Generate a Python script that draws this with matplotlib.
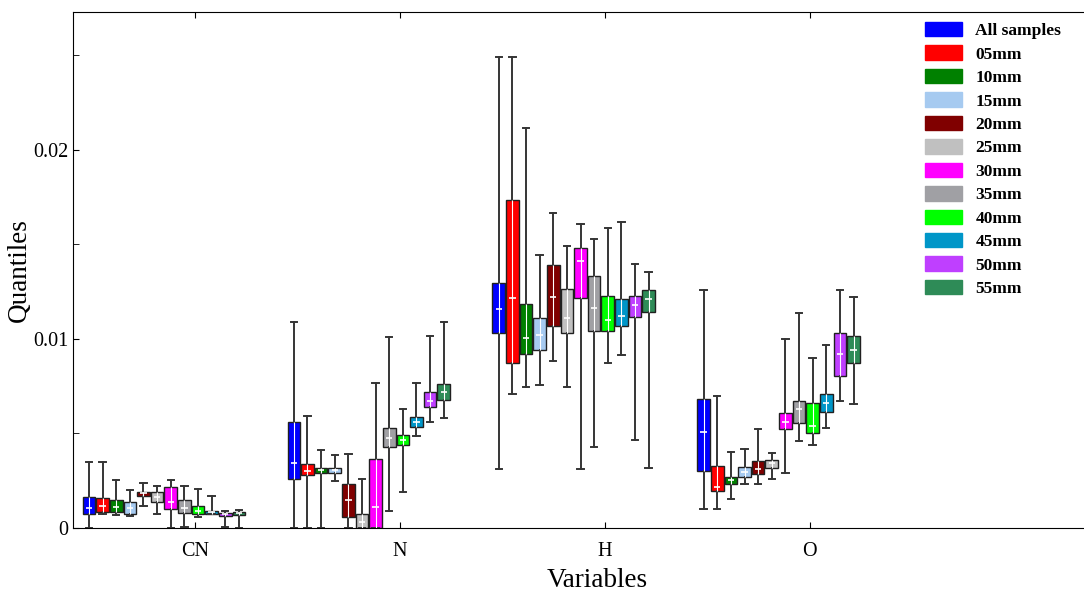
import numpy as np
import matplotlib.pyplot as plt
from matplotlib.patches import Patch

plt.rcParams['font.family'] = ['Liberation Serif', 'DejaVu Serif']

variables = ["CN", "N", "H", "O"]
series = ["All samples", "05mm", "10mm", "15mm", "20mm", "25mm",
          "30mm", "35mm", "40mm", "45mm", "50mm", "55mm"]
colors = ["#0000ff", "#ff0000", "#008000", "#a6caf0", "#800000", "#c0c0c0",
          "#ff00ff", "#a0a0a4", "#00ff00", "#0096c8", "#bf3fff", "#2e8b57"]

# quantiles, one list of 12 per variable
whislo = {
    "CN": [0.0, 0.00074, 0.0007, 0.00063, 0.00116, 0.00074, 0.0, 0.00004, 0.0006, 0.00074, 0.00004, 0.0],
    "N":  [0.0, 0.0, 0.0, 0.00247, 0.0, 0.0, 0.0, 0.0009, 0.0019, 0.00489, 0.00563, 0.0058],
    "H":  [0.0031, 0.00707, 0.00744, 0.00757, 0.00884, 0.00744, 0.0031, 0.00427, 0.00875, 0.00914, 0.00467, 0.00316],
    "O":  [0.00102, 0.00102, 0.00155, 0.00233, 0.00233, 0.00261, 0.00293, 0.0046, 0.00439, 0.00529, 0.0067, 0.00654],
}
q1 = {
    "CN": [0.00074, 0.00086, 0.00086, 0.00074, 0.00169, 0.00136, 0.001, 0.00078, 0.00074, 0.00074, 0.00063, 0.00067],
    "N":  [0.00257, 0.0028, 0.00291, 0.00289, 0.0006, 0.0, 0.0, 0.00429, 0.00439, 0.00536, 0.00642, 0.00679],
    "H":  [0.01034, 0.00875, 0.00921, 0.00942, 0.01071, 0.01034, 0.01215, 0.01042, 0.01041, 0.01071, 0.01118, 0.01145],
    "O":  [0.00303, 0.00198, 0.00233, 0.00272, 0.00286, 0.00319, 0.00522, 0.00557, 0.00504, 0.00612, 0.00804, 0.00871],
}
med = {
    "CN": [0.00104, 0.00116, 0.00113, 0.00106, 0.00183, 0.00162, 0.00139, 0.00104, 0.00092, 0.00085, 0.00074, 0.00078],
    "N":  [0.00346, 0.00302, 0.00305, 0.00305, 0.00148, 0.0003, 0.00109, 0.00474, 0.00464, 0.00563, 0.00674, 0.00721],
    "H":  [0.01159, 0.01219, 0.01007, 0.01023, 0.01224, 0.01113, 0.01414, 0.01164, 0.011, 0.01123, 0.0118, 0.01213],
    "O":  [0.00506, 0.00215, 0.00254, 0.00298, 0.00314, 0.00344, 0.00559, 0.00628, 0.0054, 0.00661, 0.00922, 0.0094],
}
q3 = {
    "CN": [0.00166, 0.0016, 0.00148, 0.00139, 0.00192, 0.00192, 0.00215, 0.00148, 0.00116, 0.00092, 0.00081, 0.00083],
    "N":  [0.00563, 0.0034, 0.00316, 0.00317, 0.00233, 0.00074, 0.00363, 0.00529, 0.00494, 0.00589, 0.0072, 0.00764],
    "H":  [0.01298, 0.01735, 0.01185, 0.01113, 0.01392, 0.01265, 0.0148, 0.01335, 0.01228, 0.01212, 0.01228, 0.01257],
    "O":  [0.00684, 0.0033, 0.00272, 0.00321, 0.00354, 0.00362, 0.00607, 0.00672, 0.0066, 0.00707, 0.01034, 0.01016],
}
whishi = {
    "CN": [0.00349, 0.0035, 0.00254, 0.002, 0.0024, 0.00222, 0.00254, 0.00222, 0.00208, 0.0017, 0.00092, 0.00095],
    "N":  [0.01088, 0.00593, 0.00413, 0.00386, 0.00392, 0.00257, 0.00767, 0.01009, 0.0063, 0.00767, 0.01018, 0.01088],
    "H":  [0.0249, 0.0249, 0.02115, 0.01446, 0.01665, 0.01492, 0.0161, 0.01531, 0.01589, 0.01619, 0.01397, 0.01356],
    "O":  [0.01261, 0.007, 0.00404, 0.0042, 0.00522, 0.00399, 0.01, 0.01136, 0.009, 0.00966, 0.01261, 0.01224],
}

fig = plt.figure(figsize=(10.84, 5.92), dpi=100)
ax = fig.add_axes([73 / 1084, 64 / 592, 1048 / 1084, 516 / 592])

n = len(series)
step = 0.0665
width = 0.062
offsets = -0.517 + step * np.arange(n)

for g, var in enumerate(variables):
    pos = g + 1 + offsets
    stats = []
    for k in range(n):
        stats.append(dict(whislo=whislo[var][k], q1=q1[var][k], med=med[var][k],
                          q3=q3[var][k], whishi=whishi[var][k], fliers=[]))
    bp = ax.bxp(stats, positions=pos, widths=width, patch_artist=True,
                showfliers=False, manage_ticks=False,
                boxprops=dict(linewidth=1.0, edgecolor="#202020"),
                whiskerprops=dict(color="#353535", linewidth=1.4, linestyle="-"),
                capprops=dict(color="#353535", linewidth=1.4),
                medianprops=dict(linewidth=0))
    for box, c in zip(bp["boxes"], colors):
        box.set_facecolor(c)
    # white centre line and short median tick inside each box
    ax.vlines(pos, q1[var], q3[var], colors="white", linewidth=0.8, zorder=3)
    ax.hlines(med[var], pos - width * 0.25, pos + width * 0.25,
              colors="white", linewidth=1.2, zorder=3)

ax.set_xlim(0.405, 5.52)
ax.set_ylim(0, 0.0273)
ax.set_xticks(np.arange(1, len(variables) + 1))
ax.set_xticklabels(variables)
ax.set_yticks([0, 0.01, 0.02])
ax.set_yticklabels(["0", "0.01", "0.02"])
ax.set_yticks([0.005, 0.015, 0.025], minor=True)
ax.tick_params(which="both", direction="in", top=True, right=False,
               labelsize=14.5, length=4)
ax.tick_params(axis="x", pad=10)
ax.spines["right"].set_visible(False)
ax.set_xlabel("Variables", fontsize=19.5, labelpad=5)
ax.set_ylabel("Quantiles", fontsize=19.5, labelpad=1)

handles = [Patch(facecolor=c, edgecolor=c) for c in colors]
fig.legend(handles, series, loc="upper left",
           bbox_to_anchor=(925 / 1084, 1 - 22 / 592), frameon=False,
           prop=dict(weight="bold", size=12.5), borderpad=0,
           handlelength=2.15, handleheight=0.9, handletextpad=0.75,
           labelspacing=0.36, borderaxespad=0)

fig.savefig("out.png", dpi=100)
